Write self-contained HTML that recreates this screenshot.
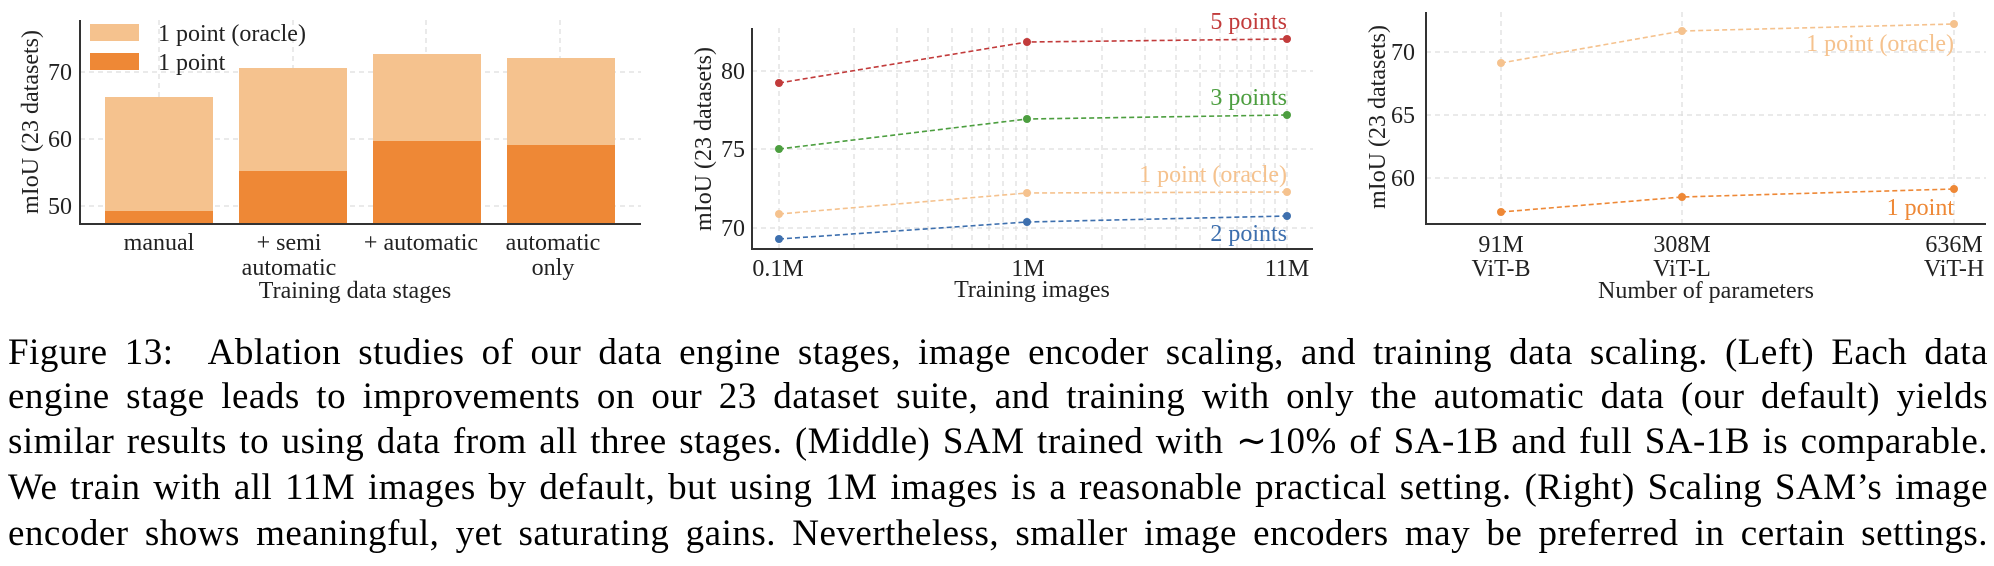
<!DOCTYPE html>
<html><head><meta charset="utf-8"><style>
body{margin:0;background:#fff;width:1994px;height:566px;overflow:hidden;position:relative;font-family:"Liberation Serif","Times New Roman",serif}
svg{position:absolute;left:0;top:0}
.cap{position:absolute;left:8px;width:1980px;font-size:37px;letter-spacing:0.5px;line-height:45px;text-align:justify;text-align-last:justify;color:#000;white-space:nowrap}
svg text{font-family:"Liberation Serif","Times New Roman",serif}
</style></head><body>
<svg width="1994" height="320" viewBox="0 0 1994 320">
<g stroke="#ddd" stroke-width="1.2" stroke-dasharray="5,4" fill="none">
 <line x1="80" y1="72" x2="641" y2="72"/><line x1="80" y1="139" x2="641" y2="139"/><line x1="80" y1="206" x2="641" y2="206"/>
 <line x1="159" y1="20" x2="159" y2="224"/><line x1="293" y1="20" x2="293" y2="224"/><line x1="426" y1="20" x2="426" y2="224"/><line x1="560" y1="20" x2="560" y2="224"/>
 <line x1="752" y1="71" x2="1313" y2="71"/><line x1="752" y1="149" x2="1313" y2="149"/><line x1="752" y1="228" x2="1313" y2="228"/>
 <g>
 <line x1="779" y1="28" x2="779" y2="249"/><line x1="854" y1="28" x2="854" y2="249"/><line x1="897" y1="28" x2="897" y2="249"/><line x1="928" y1="28" x2="928" y2="249"/><line x1="952" y1="28" x2="952" y2="249"/><line x1="972" y1="28" x2="972" y2="249"/><line x1="989" y1="28" x2="989" y2="249"/><line x1="1003" y1="28" x2="1003" y2="249"/><line x1="1016" y1="28" x2="1016" y2="249"/><line x1="1027" y1="28" x2="1027" y2="249"/>
 <line x1="1102" y1="28" x2="1102" y2="249"/><line x1="1145" y1="28" x2="1145" y2="249"/><line x1="1176" y1="28" x2="1176" y2="249"/><line x1="1200" y1="28" x2="1200" y2="249"/><line x1="1220" y1="28" x2="1220" y2="249"/><line x1="1237" y1="28" x2="1237" y2="249"/><line x1="1251" y1="28" x2="1251" y2="249"/><line x1="1264" y1="28" x2="1264" y2="249"/><line x1="1275" y1="28" x2="1275" y2="249"/><line x1="1287" y1="28" x2="1287" y2="249"/>
 </g>
 <line x1="1426" y1="52" x2="1986" y2="52"/><line x1="1426" y1="115" x2="1986" y2="115"/><line x1="1426" y1="178" x2="1986" y2="178"/>
 <line x1="1501" y1="12" x2="1501" y2="224"/><line x1="1682" y1="12" x2="1682" y2="224"/><line x1="1954" y1="12" x2="1954" y2="224"/>
</g>
<g>
 <rect x="105" y="97" width="108" height="127" fill="#f5c28e"/>
 <rect x="239" y="68" width="108" height="156" fill="#f5c28e"/>
 <rect x="373" y="54" width="108" height="170" fill="#f5c28e"/>
 <rect x="507" y="58" width="108" height="166" fill="#f5c28e"/>
 <rect x="105" y="211" width="108" height="13" fill="#ee8836"/>
 <rect x="239" y="171" width="108" height="53" fill="#ee8836"/>
 <rect x="373" y="141" width="108" height="83" fill="#ee8836"/>
 <rect x="507" y="145" width="108" height="79" fill="#ee8836"/>
 <rect x="90" y="24" width="49" height="17" fill="#f5c28e"/>
 <rect x="90" y="53" width="49" height="17" fill="#ee8836"/>
</g>
<g font-size="24" fill="#222">
 <text x="158" y="41">1 point (oracle)</text>
 <text x="158" y="70">1 point</text>
 <text x="72" y="80" text-anchor="end">70</text><text x="72" y="147" text-anchor="end">60</text><text x="72" y="214" text-anchor="end">50</text>
 <text text-anchor="middle" transform="translate(38,122) rotate(-90)">mIoU (23 datasets)</text>
 <text x="159" y="250" text-anchor="middle">manual</text>
 <text x="289" y="250" text-anchor="middle">+ semi</text><text x="289" y="275" text-anchor="middle">automatic</text>
 <text x="421" y="250" text-anchor="middle">+ automatic</text>
 <text x="553" y="250" text-anchor="middle">automatic</text><text x="553" y="275" text-anchor="middle">only</text>
 <text x="355" y="298" text-anchor="middle">Training data stages</text>
</g>
<g stroke="#333" stroke-width="2" fill="none">
 <polyline points="80,20 80,224 641,224"/>
 <polyline points="752,28 752,249 1313,249"/>
 <polyline points="1426,12 1426,224 1986,224"/>
</g>
<g stroke-width="1.6" stroke-dasharray="5,3" fill="none">
 <polyline points="779,83 1027,42 1287,39" stroke="#c23b3b"/>
 <polyline points="779,149 1027,119 1287,115" stroke="#4c9e3f"/>
 <polyline points="779,214 1027,193 1287,192" stroke="#f5c28e"/>
 <polyline points="779,239 1027,222 1287,216" stroke="#3d6fae"/>
 <polyline points="1501,63 1682,31 1954,24" stroke="#f5c28e"/>
 <polyline points="1501,212 1682,197 1954,189" stroke="#ee8836"/>
</g>
<g>
 <g fill="#c23b3b"><circle cx="779" cy="83" r="4"/><circle cx="1027" cy="42" r="4"/><circle cx="1287" cy="39" r="4"/></g>
 <g fill="#4c9e3f"><circle cx="779" cy="149" r="4"/><circle cx="1027" cy="119" r="4"/><circle cx="1287" cy="115" r="4"/></g>
 <g fill="#f5c28e"><circle cx="779" cy="214" r="4"/><circle cx="1027" cy="193" r="4"/><circle cx="1287" cy="192" r="4"/></g>
 <g fill="#3d6fae"><circle cx="779" cy="239" r="4"/><circle cx="1027" cy="222" r="4"/><circle cx="1287" cy="216" r="4"/></g>
 <g fill="#f5c28e"><circle cx="1501" cy="63" r="4"/><circle cx="1682" cy="31" r="4"/><circle cx="1954" cy="24" r="4"/></g>
 <g fill="#ee8836"><circle cx="1501" cy="212" r="4"/><circle cx="1682" cy="197" r="4"/><circle cx="1954" cy="189" r="4"/></g>
</g>
<g font-size="24">
 <text x="1287" y="29" text-anchor="end" fill="#c23b3b">5 points</text>
 <text x="1287" y="105" text-anchor="end" fill="#4c9e3f">3 points</text>
 <text x="1287" y="182" text-anchor="end" fill="#f5c28e">1 point (oracle)</text>
 <text x="1287" y="241" text-anchor="end" fill="#3d6fae">2 points</text>
 <text x="1954" y="51" text-anchor="end" fill="#f5c28e">1 point (oracle)</text>
 <text x="1954" y="215" text-anchor="end" fill="#ee8836">1 point</text>
</g>
<g font-size="24" fill="#222">
 <text x="745" y="79" text-anchor="end">80</text><text x="745" y="157" text-anchor="end">75</text><text x="745" y="236" text-anchor="end">70</text>
 <text text-anchor="middle" transform="translate(711,139) rotate(-90)">mIoU (23 datasets)</text>
 <text x="778" y="276" text-anchor="middle">0.1M</text><text x="1028" y="276" text-anchor="middle">1M</text><text x="1287" y="276" text-anchor="middle">11M</text>
 <text x="1032" y="297" text-anchor="middle">Training images</text>
 <text x="1415" y="60" text-anchor="end">70</text><text x="1415" y="123" text-anchor="end">65</text><text x="1415" y="186" text-anchor="end">60</text>
 <text text-anchor="middle" transform="translate(1385,117) rotate(-90)">mIoU (23 datasets)</text>
 <text x="1501" y="252" text-anchor="middle">91M</text><text x="1501" y="276" text-anchor="middle">ViT-B</text>
 <text x="1682" y="252" text-anchor="middle">308M</text><text x="1682" y="276" text-anchor="middle">ViT-L</text>
 <text x="1954" y="252" text-anchor="middle">636M</text><text x="1954" y="276" text-anchor="middle">ViT-H</text>
 <text x="1706" y="298" text-anchor="middle">Number of parameters</text>
</g>
</svg>
<div class="cap" style="top:330px">Figure 13: &nbsp;Ablation studies of our data engine stages, image encoder scaling, and training data scaling. (Left) Each data</div>
<div class="cap" style="top:374px">engine stage leads to improvements on our 23 dataset suite, and training with only the automatic data (our default) yields</div>
<div class="cap" style="top:419px">similar results to using data from all three stages. (Middle) SAM trained with ∼10% of SA-1B and full SA-1B is comparable.</div>
<div class="cap" style="top:465px">We train with all 11M images by default, but using 1M images is a reasonable practical setting. (Right) Scaling SAM’s image</div>
<div class="cap" style="top:511px">encoder shows meaningful, yet saturating gains. Nevertheless, smaller image encoders may be preferred in certain settings.</div>
</body></html>
